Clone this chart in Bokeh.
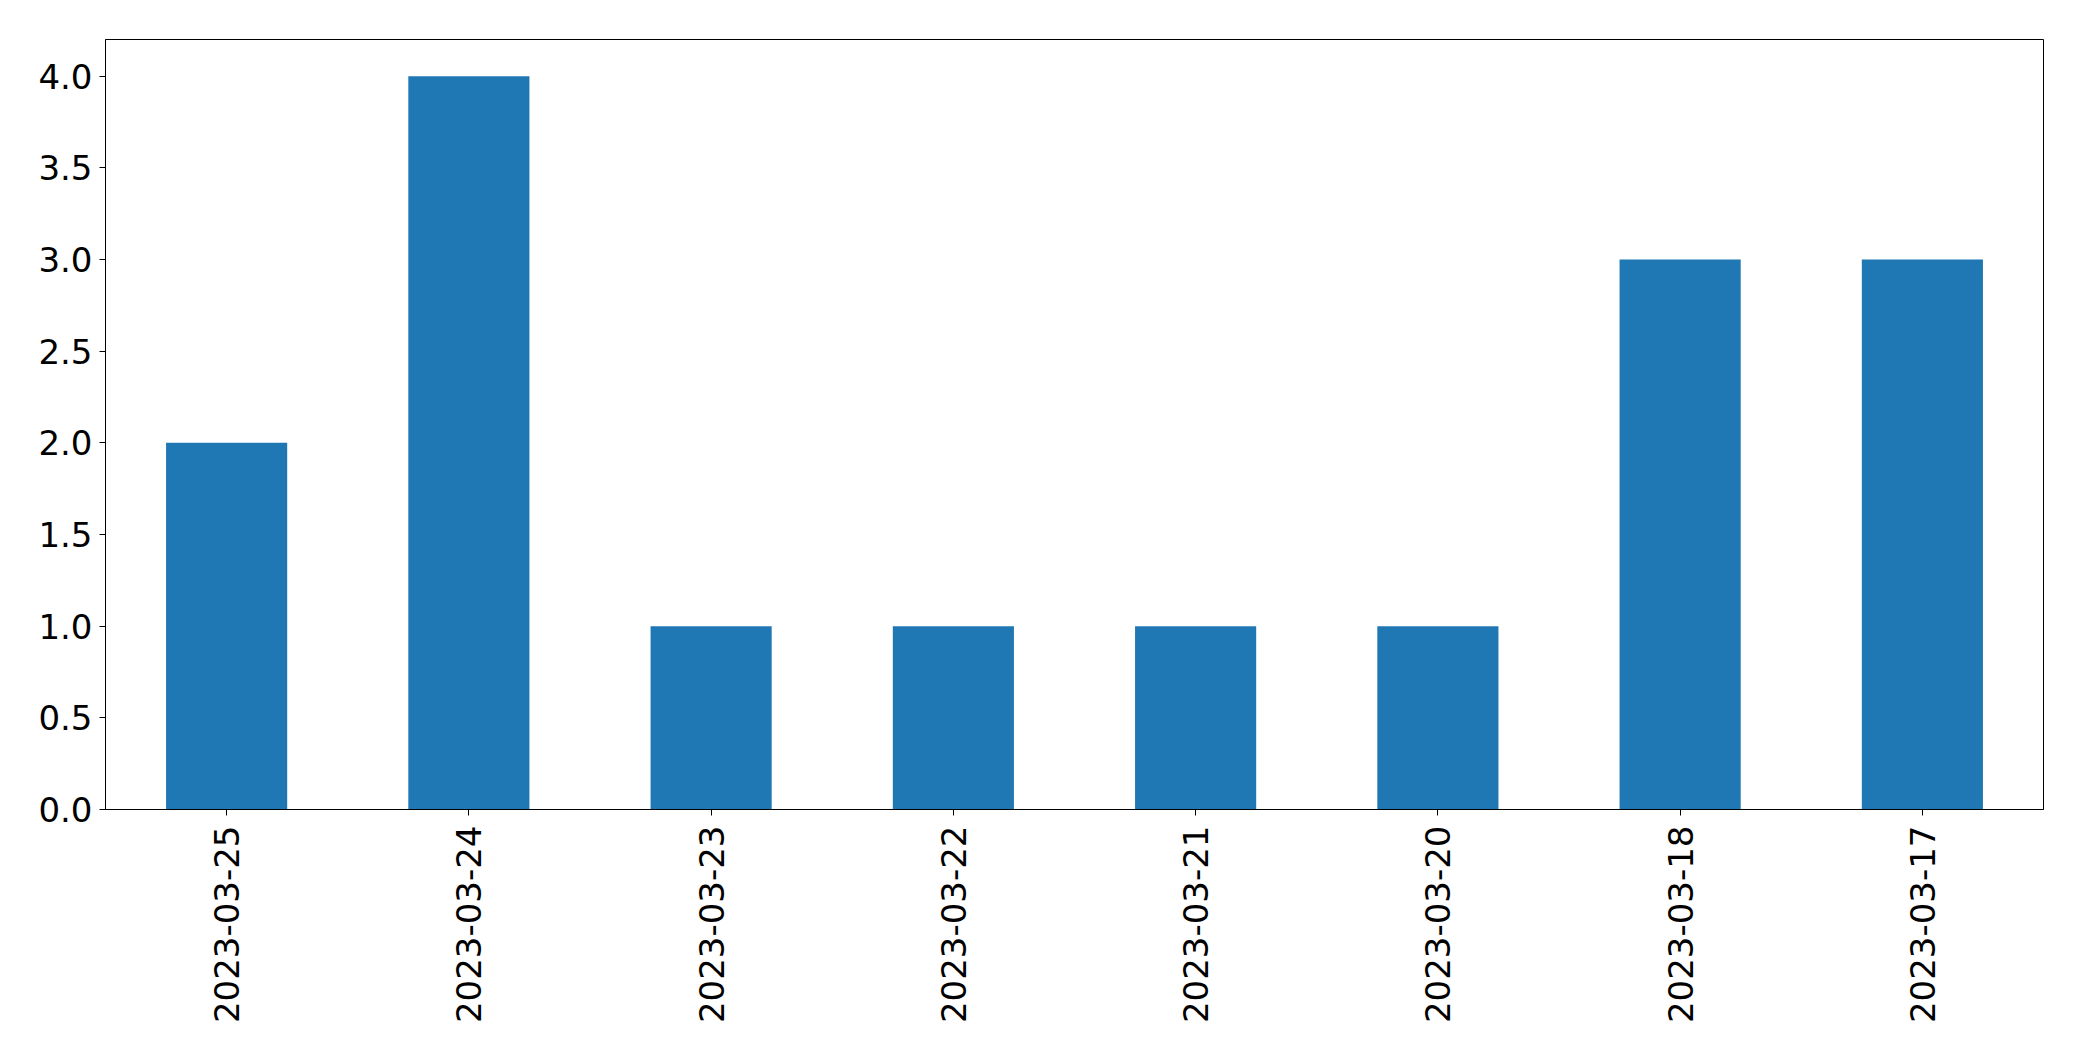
from bokeh.plotting import figure
from bokeh.models import FactorRange, Range1d, FixedTicker, NumeralTickFormatter
from bokeh.embed import file_html
from bokeh.resources import INLINE
import math

dates = ["2023-03-25", "2023-03-24", "2023-03-23", "2023-03-22",
         "2023-03-21", "2023-03-20", "2023-03-18", "2023-03-17"]
counts = [2, 4, 1, 1, 1, 1, 3, 3]
y_ticks = [0.0, 0.5, 1.0, 1.5, 2.0, 2.5, 3.0, 3.5, 4.0]

p = figure(
    x_range=FactorRange(factors=dates, range_padding=0),
    y_range=Range1d(0, 4.2),
    frame_width=1938, frame_height=770,
    min_border_left=105, min_border_top=39, min_border_right=30, min_border_bottom=230,
    output_backend="svg", toolbar_location=None,
)
p.vbar(x=dates, top=counts, width=0.5, fill_color="#1f77b4", line_color=None)

p.xgrid.grid_line_color = None
p.ygrid.grid_line_color = None
p.outline_line_color = "black"
p.outline_line_alpha = 1
p.outline_line_width = 1

for ax in (p.xaxis, p.yaxis):
    ax.axis_line_color = "black"
    ax.major_tick_line_color = "black"
    ax.major_tick_out = 6
    ax.major_tick_in = 0
    ax.minor_tick_line_color = None
    ax.major_label_text_font = "DejaVu Sans"
    ax.major_label_text_font_size = "34px"
    ax.major_label_text_color = "black"

p.yaxis.ticker = FixedTicker(ticks=y_ticks)
p.yaxis.formatter = NumeralTickFormatter(format="0.0")
p.yaxis.major_label_standoff = 7
p.xaxis.major_label_orientation = math.pi / 2
p.xaxis.major_label_standoff = 10

open("out.html", "w").write(file_html(p, INLINE))
